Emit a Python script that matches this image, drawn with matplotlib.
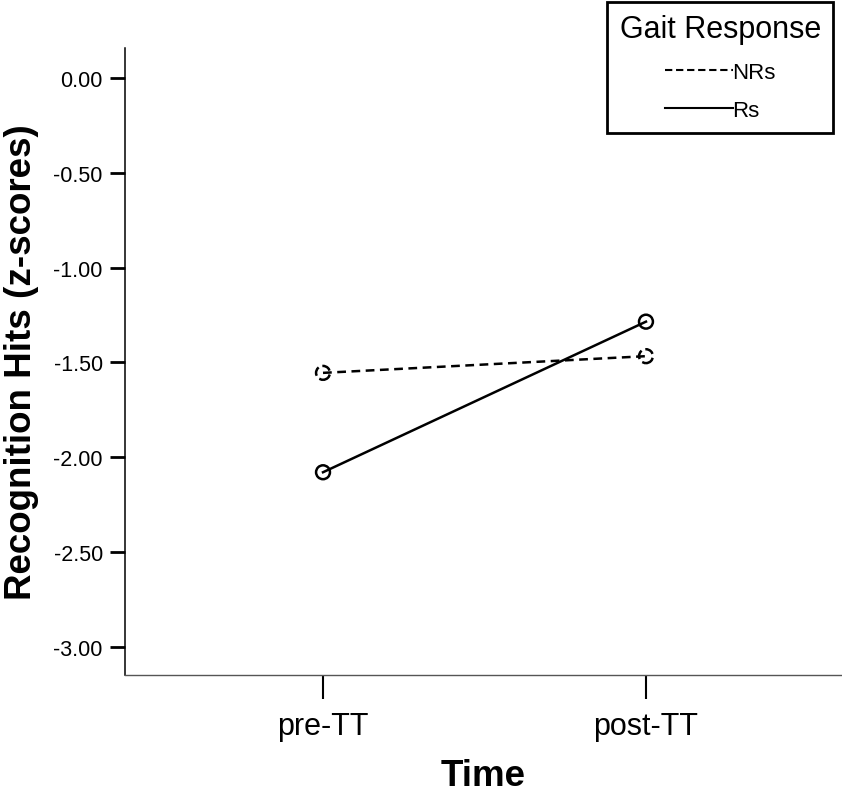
import matplotlib
matplotlib.use("Agg")
import matplotlib.pyplot as plt
from matplotlib.lines import Line2D

plt.rcParams["font.family"] = ["Liberation Sans", "DejaVu Sans"]

# values
times = ["pre-TT", "post-TT"]
groups = ["NRs", "Rs"]
nrs_means = [-1.555, -1.467]
rs_means = [-2.079, -1.285]
y_ticks = [0.0, -0.5, -1.0, -1.5, -2.0, -2.5, -3.0]

series = {"NRs": (nrs_means, "--"), "Rs": (rs_means, "-")}

fig = plt.figure(figsize=(8.42, 8.04), dpi=100)
ax = fig.add_axes([0.1485, 0.1592, 0.8515, 0.7799])

x = list(range(len(times)))
handles = []
for name in groups:
    vals, ls = series[name]
    ax.plot(x, vals, color="black", linestyle=ls, linewidth=1.8,
            dashes=(3.5, 2.2) if ls == "--" else (None, None))
    ax.scatter(x, vals, s=100, facecolors="none", edgecolors="black", linewidths=1.8,
               linestyles=ls, zorder=3)
    handles.append(Line2D([], [], color="black", linestyle=ls, linewidth=1.5,
                          dashes=(3.5, 1.8) if ls == "--" else (None, None), label=name))

ax.set_xlim(-0.613, 1.607)
ax.set_ylim(-3.148, 0.158)
ax.set_xticks(x)
ax.set_xticklabels(times, fontsize=22)
ax.set_yticks(y_ticks)
ax.set_yticklabels([f"{v:.2f}" for v in y_ticks], fontsize=15.5)

ax.tick_params(axis="y", direction="out", length=11, width=2, pad=5)
ax.tick_params(axis="x", direction="out", length=17, width=1.5, pad=9)

for side in ("top", "right"):
    ax.spines[side].set_visible(False)
ax.spines["left"].set_linewidth(1.1)
ax.spines["bottom"].set_linewidth(1.0)
ax.spines["bottom"].set_color("#555555")

ax.set_xlabel("Time", fontsize=26.5, fontweight="bold", labelpad=12)
ax.set_ylabel("Recognition Hits (z-scores)", fontsize=26.5, fontweight="bold", labelpad=10)

leg = ax.legend(handles=handles, title="Gait Response", loc="upper right",
                bbox_to_anchor=(833 / 842, 1 - 3 / 804), bbox_transform=fig.transFigure,
                borderaxespad=0, fontsize=16, title_fontsize=22, handlelength=3.1,
                handletextpad=-0.05, labelspacing=0.78, fancybox=False, framealpha=1,
                edgecolor="black", borderpad=0.55)
leg.get_frame().set_linewidth(2)

fig.savefig("out.png", dpi=100)
